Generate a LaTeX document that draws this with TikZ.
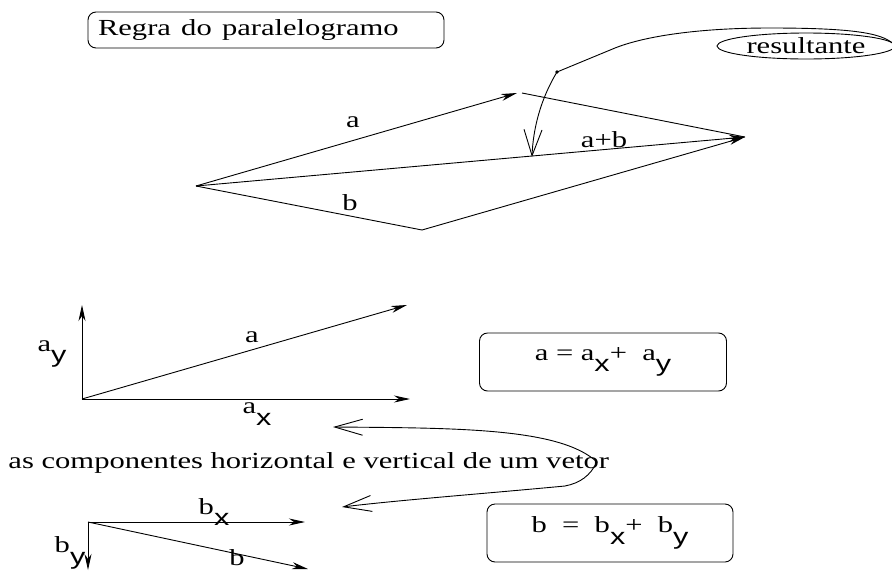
\documentclass[tikz,border=0pt]{standalone}
\usepackage{fontspec}
\setmainfont{Liberation Serif}
\setsansfont{Liberation Sans}
\usepackage{graphicx}
\usetikzlibrary{arrows.meta,shapes.geometric}

% stretched text and lowered index
\newcommand{\wtxt}[1]{\scalebox{1.33}[1]{#1}}
\newcommand{\idx}[1]{\raisebox{-0.5em}{\sffamily #1}}

\begin{document}
\begin{tikzpicture}[x=1pt,y=-1pt,
line width=0.9pt,
lbl/.style={font=\fontsize{23}{26}\selectfont,inner sep=0pt},
framebox/.style={draw,rounded corners=8pt},
vec/.style={-{Stealth[length=16pt,width=7pt,inset=5pt]}},
pointer/.style={-{Straight Barb[length=26pt,width=18pt]}},
bipointer/.style={{Straight Barb[length=28pt,width=16pt]}-{Straight Barb[length=28pt,width=16pt]}}
]
\useasboundingbox (0,0) rectangle (892,571);

% parallelogram rule
\node[lbl,framebox,minimum width=356pt,minimum height=36pt,text width=336pt,align=left] (title) at (266,30) {\wtxt{Regra do paralelogramo}};
\coordinate (o) at (196,186);
\coordinate (pa) at (517,93);
\coordinate (pa2) at (522,93);
\coordinate (pr) at (745,137);
\coordinate (pb) at (422,230);
\draw[vec] (o) -- (pa);
\draw (pa2) -- (pr);
\draw[vec] (o) -- (pr);
\draw (o) -- (pb);
\draw[vec] (pb) -- (pr);
\node[lbl] (la) at (353,122) {\wtxt{a}};
\node[lbl] (lab) at (604,140) {\wtxt{a+b}};
\node[lbl] (lb) at (350,203) {\wtxt{b}};

\node[lbl,draw,ellipse,minimum width=178pt,minimum height=26pt] (res) at (806,46) {\wtxt{resultante}};
\coordinate (rdot) at (557,72);
\coordinate (rtip) at (532,157);
\draw[pointer] (res.east) .. controls (885,34) and (860,28) .. (770,28) .. controls (690,28) and (640,38) .. (615,48) -- (rdot) .. controls (540,100) and (533,130) .. (rtip);
\fill (rdot) circle (1.8pt);

% components of a
\coordinate (o2) at (82,399);
\coordinate (ay) at (82,305);
\coordinate (ax) at (410,399);
\coordinate (av) at (407,305);
\draw[vec] (o2) -- (ay);
\draw[vec] (o2) -- (ax);
\draw[vec] (o2) -- (av);
\node[lbl] (lay) at (52,354) {\wtxt{a\idx{y}}};
\node[lbl] (lav) at (252,337) {\wtxt{a}};
\node[lbl] (lax) at (257,414) {\wtxt{a\idx{x}}};
\node[lbl,framebox,minimum width=247pt,minimum height=58pt] (eqa) at (603,362) {\wtxt{a = a\idx{x}+~~a\idx{y}}};

\node[lbl,anchor=west] (caption) at (8,463) {\wtxt{as componentes horizontal e vertical de um vetor}};
\coordinate (t1) at (333,427);
\coordinate (t2) at (342,507);
\draw[bipointer] (t1) .. controls (460,428) and (560,428) .. (597,462) .. controls (590,476) and (580,483) .. (565,486) .. controls (480,494) and (400,500) .. (t2);

% components of b
\coordinate (o3) at (88,522);
\coordinate (bx) at (305,522);
\coordinate (by) at (88,570);
\coordinate (bv) at (308,569);
\draw[vec] (o3) -- (bx);
\draw[vec] (o3) -- (by);
\draw[vec] (o3) -- (bv);
\node[lbl] (lbx) at (214,512) {\wtxt{b\idx{x}}};
\node[lbl] (lby) at (70,553) {\wtxt{b\idx{y}}};
\node[lbl] (lbv) at (237,558) {\wtxt{b}};
\node[lbl,framebox,minimum width=246pt,minimum height=58pt] (eqb) at (610,533) {\wtxt{b~~=~~b\idx{x}+~~b\idx{y}}};
\end{tikzpicture}
\end{document}
